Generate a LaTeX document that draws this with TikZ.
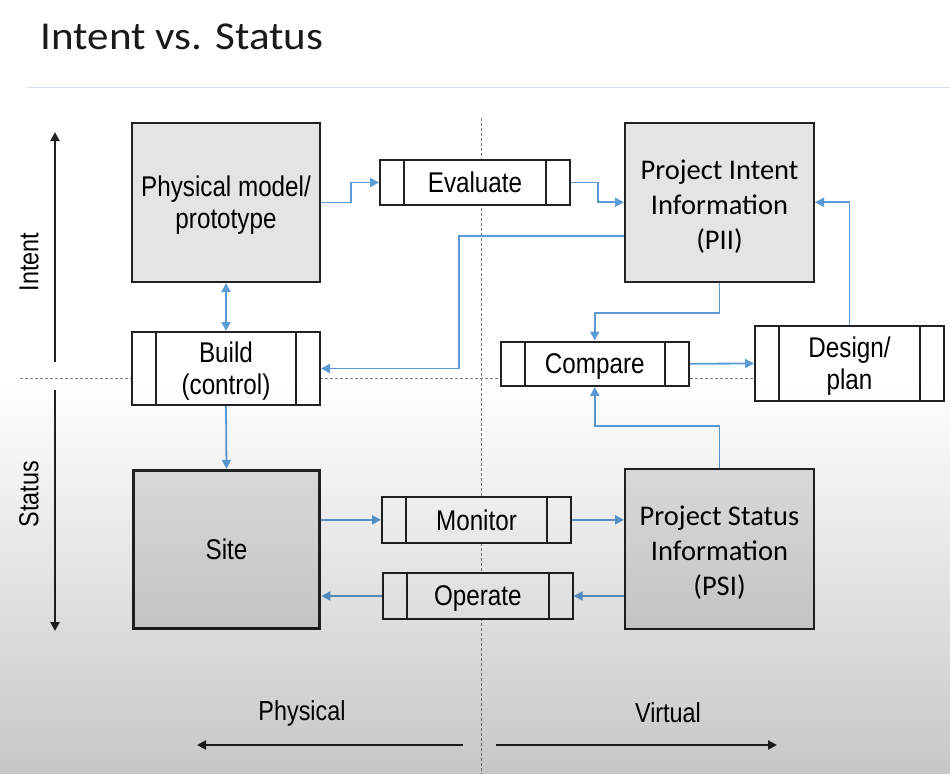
\documentclass[tikz,border=0pt]{standalone}
\usepackage{fontspec}
\setmainfont{Liberation Sans}
\newfontfamily\narrowsans[FakeStretch=0.85]{Liberation Sans}
\newfontfamily\calfont{Carlito}
\newfontfamily\headfont[FakeStretch=1.09]{Carlito}
\usetikzlibrary{arrows.meta,fadings,calc}
\definecolor{flowblue}{HTML}{5B9BD5}
\definecolor{boxgray}{HTML}{E4E4E4}
\definecolor{rulecol}{HTML}{D6E0EA}
\definecolor{dashgray}{HTML}{7F7F7F}
\definecolor{inkdark}{HTML}{222222}
\tikzfading[name=shadedown, top color=transparent!100, bottom color=transparent!0]
\tikzset{
  info/.style={draw=inkdark, line width=2pt, fill=boxgray, inner sep=0pt, align=center},
  procbox/.style={draw=inkdark, line width=2pt, fill=white, inner sep=0pt, align=center,
    path picture={\draw[line width=2pt, inkdark]
      ([xshift=24pt]path picture bounding box.north west) -- ([xshift=24pt]path picture bounding box.south west)
      ([xshift=-24pt]path picture bounding box.north east) -- ([xshift=-24pt]path picture bounding box.south east);}},
  flowtip/.tip={Triangle[length=9pt,width=9pt]},
  flow/.style={draw=flowblue, line width=1.8pt, -flowtip},
  axisarrow/.style={draw=inkdark, line width=2.6pt, -{Triangle[length=9pt,width=9pt]}},
  divider/.style={dashgray, line width=0.8pt, dash pattern=on 3pt off 2pt},
  lbl/.style={font=\narrowsans\fontsize{28.5}{32}\selectfont, text=black, text depth=0pt},
  sidelbl/.style={font=\narrowsans\fontsize{27.5}{32}\selectfont, text=black},
  infotext/.style={font=\calfont\fontsize{28.5}{35}\selectfont, text=black, align=center, text depth=0pt, inner sep=0pt},
}
\begin{document}
\begin{tikzpicture}[x=1pt,y=-1pt]
  % canvas
  \useasboundingbox (0,0) rectangle (950,774);
  \fill[white] (0,0) rectangle (950,774);

  % heading and rule
  \node[anchor=base west, font=\headfont\fontsize{39.5}{48}\selectfont, text=black!90, inner sep=0pt]
    (title) at (40.5,49.5) {Intent vs. Status};
  \draw[rulecol, line width=1.5pt] (27,87.5) -- (950,87.5);

  % quadrant dividers
  \draw[divider] (481,118) -- (481,774);
  \draw[divider] (20,378) -- (755,378);

  % information boxes
  \node[info, lbl, minimum width=188pt, minimum height=159pt] (phys) at (226,202.5) {Physical model/\\prototype};
  \node[info, minimum width=189pt, minimum height=159.5pt] (pii) at (719.5,202.25) {};
  \node[info, minimum width=189pt, minimum height=160pt] (psi) at (719.5,549) {};
  \node[infotext] (piitext) at ($(pii.center)+(0,2)$) {Project Intent\\Information\\(PII)};
  \node[infotext] (psitext) at ($(psi.center)+(0,2)$) {Project Status\\Information\\(PSI)};
  \node[info, lbl, line width=3.3pt, minimum width=186.4pt, minimum height=158pt] (site) at (226.5,549.5) {Site};

  % process boxes
  \node[procbox, lbl, minimum width=190pt, minimum height=45pt] (eval) at (475,182.5) {Evaluate};
  \node[procbox, lbl, minimum width=188pt, minimum height=73pt] (build) at (226,368.5) {Build\\(control)};
  \node[procbox, lbl, minimum width=188.5pt, minimum height=44.5pt] (cmp) at (594.75,363.75) {Compare};
  \node[procbox, lbl, minimum width=189pt, minimum height=75pt] (des) at (849.5,363.5) {Design/\\plan};
  \node[procbox, lbl, minimum width=189pt, minimum height=45.7pt] (mon) at (476.5,519.85) {Monitor};
  \node[procbox, lbl, minimum width=189.7pt, minimum height=46pt] (op) at (477.85,596) {Operate};

  % flows
  \draw[flow] (phys.east) -- ++(30,0) |- (eval.west);
  \draw[flow] (eval.east) -- ++(27,0) |- (pii.west);
  \draw[flow] ([yshift=-34pt]pii.west) -| ($(build.east)+(138,0)$) -- (build.east);
  \draw[flow, flowtip-flowtip] (phys.south) -- (build.north);
  \draw[flow] (pii.south) -- ++(0,30) -| (cmp.north);
  \draw[flow] (cmp.east) -- (des.west);
  \draw[flow] (des.north) |- (pii.east);
  \draw[flow] (psi.north) -- ++(0,-42) -| (cmp.south);
  \draw[flow] (build.south) -- (site.north);
  \draw[flow] (site.east |- mon.west) -- (mon.west);
  \draw[flow] (mon.east) -- (mon.east -| psi.west);
  \draw[flow] (psi.west |- op.east) -- (op.east);
  \draw[flow] (op.west) -- (op.west -| site.east);

  % axes
  \coordinate (intentLo) at (55,362);
  \coordinate (intentHi) at (55,132);
  \coordinate (statusHi) at (55,390);
  \coordinate (statusLo) at (55,631);
  \coordinate (physR) at (462.5,745);
  \coordinate (physL) at (197,745);
  \coordinate (virtL) at (496,745);
  \coordinate (virtR) at (777,745);
  \draw[axisarrow] (intentLo) -- (intentHi);
  \draw[axisarrow] (statusHi) -- (statusLo);
  \draw[axisarrow] (physR) -- (physL);
  \draw[axisarrow] (virtL) -- (virtR);
  \node[sidelbl, rotate=90] (intentlbl) at (29,262) {Intent};
  \node[sidelbl, rotate=90] (statuslbl) at (29,494) {Status};
  \node[sidelbl] (physlbl) at (302,713) {Physical};
  \node[sidelbl] (virtlbl) at (668,713) {Virtual};

  % soft darkening towards the lower edge
  \fill[black, fill opacity=0.22, path fading=shadedown] (0,380) rectangle (950,774);
\end{tikzpicture}
\end{document}
